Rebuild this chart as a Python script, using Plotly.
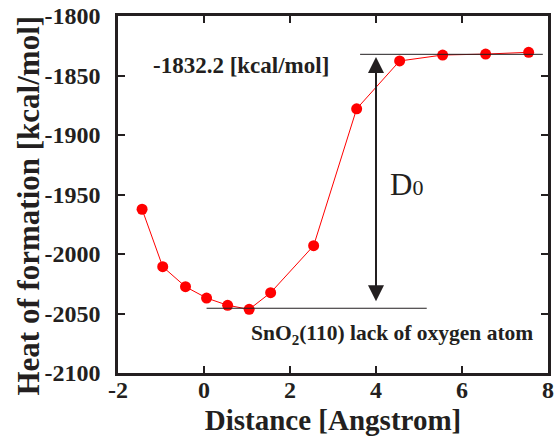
import plotly.graph_objects as go

# Data
distance = [-1.44, -0.96, -0.43, 0.06, 0.55, 1.05, 1.55, 2.55, 3.55, 4.55, 5.55, 6.55, 7.55]
heat = [-1962.4, -2010.7, -2027.5, -2037.0, -2043.1, -2046.5, -2032.5, -1993.0, -1878.0, -1837.8, -1832.8, -1832.0, -1830.5]
x_ticks = [-2, 0, 2, 4, 6, 8]
y_ticks = [-2100, -2050, -2000, -1950, -1900, -1850, -1800]
upper_level = -1832.2
lower_level = -2045.6
upper_line_x = [3.63, 7.88]
lower_line_x = [0.06, 5.18]
arrow_x = 4.0
arrow_top = -1834.5
arrow_bottom = -2041.0

FONT = "Liberation Serif"
INK = "#231f20"

fig = go.Figure()

fig.add_trace(go.Scatter(
    x=distance, y=heat, mode="lines+markers",
    line=dict(color="#ff0000", width=1),
    marker=dict(color="#ff0000", size=11),
    showlegend=False,
))

fig.add_shape(type="line", xref="x", yref="y",
              x0=upper_line_x[0], x1=upper_line_x[1], y0=upper_level, y1=upper_level,
              line=dict(color=INK, width=1))
fig.add_shape(type="line", xref="x", yref="y",
              x0=lower_line_x[0], x1=lower_line_x[1], y0=lower_level, y1=lower_level,
              line=dict(color=INK, width=1))

# double arrow
fig.add_annotation(x=arrow_x, y=arrow_top, ax=arrow_x, ay=arrow_bottom,
                   xref="x", yref="y", axref="x", ayref="y",
                   text="", showarrow=True, arrowhead=2, startarrowhead=2,
                   arrowside="end+start", arrowsize=1.6, startarrowsize=1.6,
                   arrowwidth=2, arrowcolor=INK, standoff=0, startstandoff=0)

fig.add_annotation(x=0.86, y=-1842, xref="x", yref="y", text="<b>-1832.2 [kcal/mol]</b>",
                   showarrow=False, font=dict(family=FONT, size=23, color=INK),
                   xanchor="center", yanchor="middle")
fig.add_annotation(x=4.38, y=-2068, xref="x", yref="y",
                   text="<b>SnO<sub>2</sub>(110) lack of oxygen atom</b>",
                   showarrow=False, font=dict(family=FONT, size=21.5, color=INK),
                   xanchor="center", yanchor="middle")
fig.add_annotation(x=4.72, y=-1942, xref="x", yref="y",
                   text="D<span style='font-size:22px'>0</span>",
                   showarrow=False, font=dict(family=FONT, size=31, color=INK),
                   xanchor="center", yanchor="middle")

# y-axis title as annotation for precise placement
fig.add_annotation(x=-0.207, y=0.469, xref="paper", yref="paper",
                   text="<b>Heat of formation [kcal/mol]</b>", textangle=-90,
                   showarrow=False, font=dict(family=FONT, size=31, color=INK),
                   xanchor="center", yanchor="middle")

axis_common = dict(
    showline=True, linecolor=INK, linewidth=2.5, mirror="ticks",
    ticks="inside", ticklen=7, tickwidth=2, tickcolor=INK,
    showgrid=False, zeroline=False,
    tickfont=dict(family=FONT, size=24, color=INK, weight="bold"),
)

fig.update_xaxes(range=[-2, 8], tickvals=x_ticks,
                 ticktext=[f"<b>{v}</b>" for v in x_ticks],
                 ticklabelstandoff=-7,
                 title=dict(text="<b>Distance [Angstrom]</b>",
                            font=dict(family=FONT, size=29, color=INK), standoff=10),
                 **axis_common)
fig.update_yaxes(range=[-2100, -1800], tickvals=y_ticks,
                 ticktext=[f"<b>{v}</b>" for v in y_ticks],
                 ticklabelstandoff=10, **axis_common)

fig.update_layout(
    width=555, height=436,
    margin=dict(l=118, r=7, t=16, b=63, autoexpand=False),
    paper_bgcolor="white", plot_bgcolor="white",
    font=dict(family=FONT, color=INK),
)

fig.write_html("out.html")
